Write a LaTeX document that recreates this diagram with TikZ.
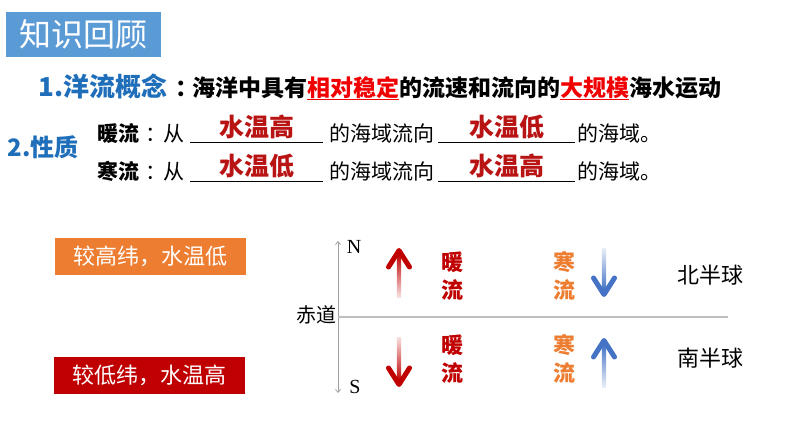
\documentclass[tikz,border=0pt]{standalone}
\usepackage{fontspec}
\setmainfont{Noto Sans CJK SC}
\newfontfamily\nsfont{Liberation Serif}
\usetikzlibrary{arrows.meta}

\definecolor{titleblue}{RGB}{91,155,213}
\definecolor{numblue}{RGB}{31,110,185}
\definecolor{hlred}{RGB}{240,0,0}
\definecolor{fillred}{RGB}{185,20,20}
\definecolor{warmred}{RGB}{192,0,0}
\definecolor{coldor}{RGB}{237,125,49}
\definecolor{coldblue}{RGB}{68,114,196}
\definecolor{axisgray}{RGB}{160,160,160}
\definecolor{eqgray}{RGB}{190,190,190}

\newcommand{\fsz}[1]{\fontsize{#1}{#1}\selectfont}
\newcommand{\redul}[1]{\textcolor{hlred}{\underline{#1}}}

\begin{document}
\begin{tikzpicture}
  [x=1pt,y=-1pt,every node/.style={inner sep=0pt},
   titlebox/.style={fill=titleblue,text=white,minimum width=155pt,minimum height=45pt,font=\fsz{32}},
   latbox/.style={text=white,minimum width=191pt,minimum height=37pt,font=\fsz{22}},
   rowtxt/.style={anchor=base west,font=\fsz{21}},
   blank/.style={anchor=base,text=fillred,font=\fsz{25}\bfseries},
   flowtxt/.style={font=\fontsize{22}{28}\selectfont\bfseries,align=center},
   hemi/.style={font=\fsz{22}}]
  \useasboundingbox (0,0) rectangle (794,447);

  \node[titlebox] (title) at (83.5,34.5) {知识回顾};

  % 1. concept line
  \node[anchor=base west,font=\fsz{23}\bfseries] (concept) at (38,96)
    {{\color{numblue}\fsz{26}1.洋流概念}\hspace{8pt}：\hspace{-6pt}海洋中具有\redul{相对稳定}的流速和流向的\redul{大规模}海水运动};

  % 2. properties
  \node[font=\fsz{24}\bfseries,text=numblue] (prop) at (43,147) {2.性质};

  \node[rowtxt] (w1) at (97,141) {\textbf{暖流}\hspace{6pt}：\hspace{-3pt}从};
  \node[blank,minimum width=133pt] (b1) at (256.5,136.5) {水温高};
  \node[rowtxt] (m1) at (329,141) {的海域流向};
  \node[blank,minimum width=137pt] (b2) at (506.5,136.5) {水温低};
  \node[rowtxt] (e1) at (577,141) {的海域。};

  \node[rowtxt] (w2) at (97,179) {\textbf{寒流}\hspace{6pt}：\hspace{-3pt}从};
  \node[blank,minimum width=133pt] (b3) at (256.5,175) {水温低};
  \node[rowtxt] (m2) at (329,179) {的海域流向};
  \node[blank,minimum width=137pt] (b4) at (506.5,175) {水温高};
  \node[rowtxt] (e2) at (577,179) {的海域。};

  \foreach \b in {b1,b2,b3,b4}
    \draw[line width=0.8pt] ([yshift=-6pt]\b.base west) -- ([yshift=-6pt]\b.base east);

  % latitude boxes
  \node[latbox,fill=coldor] (hi) at (150.5,256.5) {较高纬，水温低};
  \node[latbox,fill=warmred] (lo) at (149.5,375.5) {较低纬，水温高};

  % axis and equator
  \coordinate (axN) at (338,241);
  \coordinate (axS) at (338,393);
  \draw[axisgray,line width=0.8pt,{Straight Barb[length=3pt,width=5pt]}-{Straight Barb[length=3pt,width=5pt]}] (axN) -- (axS);
  \node[font=\nsfont\fsz{20}] (N) at (354,247) {N};
  \node[font=\nsfont\fsz{20}] (S) at (355,387) {S};
  \node[anchor=east,font=\fsz{20}] (eqlab) at (337,315) {赤道};
  \coordinate (eqE) at (728,317);
  \draw[eqgray,line width=1.5pt] (axN |- eqE) -- (eqE);

  % currents
  \node[flowtxt,text=warmred] (wn) at (452,276) {暖\\流};
  \node[flowtxt,text=warmred] (ws) at (452,359) {暖\\流};
  \node[flowtxt,text=coldor] (cn) at (564,276) {寒\\流};
  \node[flowtxt,text=coldor] (cs) at (564,359) {寒\\流};

  \foreach \ax/\tl/\tp/\col in {399/297/248/warmred,399/337/387/warmred,604/248/297/coldblue,604/387/338/coldblue}{
    \pgfmathsetmacro{\sgn}{sign(\tl-\tp)}
    \pgfmathsetmacro{\ang}{\sgn>0?0:180}
    \shade[top color=\col,bottom color=\col!12,shading angle=\ang]
      (\ax-2.2,\tl) rectangle (\ax+2.2,\tp+\sgn*6);
    \draw[\col,line width=5pt,line cap=round,line join=round]
      (\ax-10.5,\tp+\sgn*19) -- (\ax,\tp+\sgn*2.5) -- (\ax+10.5,\tp+\sgn*19);
  }

  \node[hemi] (north) at (710,275) {北半球};
  \node[hemi] (south) at (710,358) {南半球};
\end{tikzpicture}
\end{document}
